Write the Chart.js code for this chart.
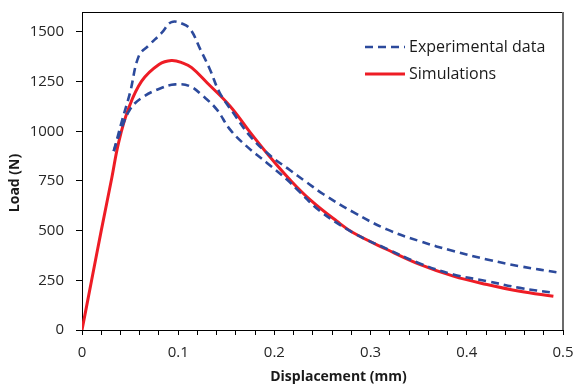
<!DOCTYPE html>
<html>
<head>
<meta charset="utf-8">
<script src="https://cdn.jsdelivr.net/npm/chart.js@4/dist/chart.umd.min.js"></script>
<style>
html,body{margin:0;padding:0;background:#fff;}
#wrap{width:576px;height:387px;position:relative;}
</style>
</head>
<body>
<div id="wrap"><canvas id="c" width="576" height="387"></canvas></div>
<script>
// ---- data ----
const expUpperX = [0.033,0.042,0.05,0.059,0.069,0.083,0.093,0.105,0.113,0.123,0.133,0.143,0.157,0.175,0.195,0.216,0.233,0.251,0.282,0.317,0.351,0.386,0.421,0.455,0.497];
const expUpperY = [900,1060,1195,1378,1430,1496,1549,1540,1511,1412,1311,1195,1094,974,880,805,745,683,593,506,447,397,355,321,288];
const expLowerX = [0.033,0.04,0.05,0.062,0.083,0.097,0.112,0.126,0.14,0.154,0.171,0.192,0.213,0.227,0.247,0.282,0.317,0.351,0.386,0.421,0.455,0.49];
const expLowerY = [900,1000,1110,1168,1219,1236,1227,1176,1110,1008,925,842,757,691,600,489,408,335,279,246,212,187];
const simX = [0,0.01,0.02,0.031,0.038,0.048,0.062,0.08,0.093,0.105,0.114,0.13,0.154,0.175,0.195,0.216,0.237,0.265,0.282,0.317,0.351,0.386,0.421,0.455,0.49];
const simY = [0,250,500,766,942,1109,1252,1336,1356,1343,1320,1244,1126,993,873,757,656,547,489,405,330,271,229,195,170];
const xTickLabels = [0,0.1,0.2,0.3,0.4,0.5];
const yTickLabels = [0,250,500,750,1000,1250,1500];
const seriesLabels = ['Experimental data','Simulations'];
const xTitle = 'Displacement (mm)';
const yTitle = 'Load (N)';

const BLUE = '#2C4A9C';
const RED = '#EE1C25';
const FONT = "'Open Sans', 'Liberation Sans', sans-serif";

function pts(xs, ys){ return xs.map((x,i)=>({x:x, y:ys[i]})); }

const legendPlugin = {
  id: 'insideLegend',
  afterDraw(chart){
    const ca = chart.chartArea, ctx = chart.ctx;
    const items = [chart.data.datasets[0], chart.data.datasets[2]];
    ctx.save();
    items.forEach((ds, i) => {
      const y = ca.top + 35 + i * 27;
      const x0 = ca.right - 198, x1 = ca.right - 158;
      ctx.beginPath();
      ctx.strokeStyle = ds.borderColor;
      ctx.lineWidth = ds.borderWidth;
      ctx.setLineDash(ds.borderDash || []);
      ctx.moveTo(x0, y); ctx.lineTo(x1, y);
      ctx.stroke();
      ctx.setLineDash([]);
      ctx.fillStyle = '#1a1a1a';
      ctx.font = "16px " + FONT;
      ctx.textBaseline = 'middle';
      ctx.textAlign = 'left';
      ctx.fillText(ds.label, x1 + 4, y);
    });
    ctx.restore();
  }
};

// axis titles, placed like the reference (slightly off the plot centre)
const axisTitlePlugin = {
  id: 'axisTitles',
  afterDraw(chart){
    const ca = chart.chartArea, ctx = chart.ctx;
    ctx.save();
    ctx.fillStyle = '#1a1a1a';
    ctx.font = "bold 14px " + FONT;
    ctx.textAlign = 'center';
    ctx.textBaseline = 'middle';
    ctx.fillText(xTitle, (ca.left + ca.right) / 2 + 16, chart.height - 10);
    ctx.translate(15, (ca.top + ca.bottom) / 2 + 12);
    ctx.rotate(-Math.PI / 2);
    ctx.fillText(yTitle, 0, 0);
    ctx.restore();
  }
};

const framePlugin = {
  id: 'frame',
  afterDatasetsDraw(chart){
    const ca = chart.chartArea, ctx = chart.ctx;
    ctx.save();
    ctx.strokeStyle = '#000';
    ctx.lineWidth = 1;
    ctx.beginPath();
    ctx.moveTo(ca.left, ca.top + 0.5);
    ctx.lineTo(ca.right, ca.top + 0.5);
    ctx.stroke();
    ctx.strokeStyle = '#6b6b6b';
    ctx.lineWidth = 2;
    ctx.beginPath();
    ctx.moveTo(ca.right, ca.top);
    ctx.lineTo(ca.right, ca.bottom);
    ctx.stroke();
    ctx.restore();
  }
};

new Chart(document.getElementById('c'), {
  type: 'line',
  data: {
    datasets: [
      { label: seriesLabels[0], data: pts(expUpperX, expUpperY), borderColor: BLUE, borderWidth: 2.6, borderDash: [8,5], pointRadius: 0, tension: 0.4, fill: false },
      { label: seriesLabels[0], data: pts(expLowerX, expLowerY), borderColor: BLUE, borderWidth: 2.6, borderDash: [8,5], pointRadius: 0, tension: 0.4, fill: false },
      { label: seriesLabels[1], data: pts(simX, simY), borderColor: RED, borderWidth: 3, pointRadius: 0, tension: 0.4, fill: false }
    ]
  },
  options: {
    responsive: false,
    animation: false,
    layout: { padding: { top: 12, right: 13, left: 0, bottom: 0 } },
    plugins: { legend: { display: false }, tooltip: { enabled: false } },
    scales: {
      x: {
        type: 'linear', min: 0, max: 0.5,
        afterFit(s){ s.height = 57; s.paddingLeft = 0; s.paddingRight = 0; },
        afterBuildTicks(s){
          const t = [];
          for (let i = 0; i <= 25; i++) t.push({ value: i * 0.02 });
          s.ticks = t;
        },
        ticks: {
          autoSkip: false, maxRotation: 0, padding: 9,
          color: '#262626', font: { family: FONT, size: 15 },
          callback(v){
            const m = xTickLabels.find(l => Math.abs(l - v) < 1e-6);
            return m === undefined ? '' : String(m);
          }
        },
        grid: { display: true, drawOnChartArea: false, drawTicks: true, tickLength: 5, color: '#000', lineWidth: 1 },
        border: { display: true, color: '#000', width: 1 },
        title: { display: false, text: xTitle }
      },
      y: {
        type: 'linear', min: 0, max: 1600,
        afterFit(s){ s.width = 82; s.paddingTop = 0; s.paddingBottom = 0; },
        afterBuildTicks(s){ s.ticks = yTickLabels.map(v => ({ value: v })); },
        ticks: { padding: 12, color: '#262626', font: { family: FONT, size: 15 }, callback(v){ return String(v); } },
        grid: { display: true, drawOnChartArea: false, drawTicks: true, tickLength: 6, color: '#000', lineWidth: 1 },
        border: { display: true, color: '#000', width: 1 },
        title: { display: false, text: yTitle }
      }
    }
  },
  plugins: [framePlugin, legendPlugin, axisTitlePlugin]
});
</script>
</body>
</html>
